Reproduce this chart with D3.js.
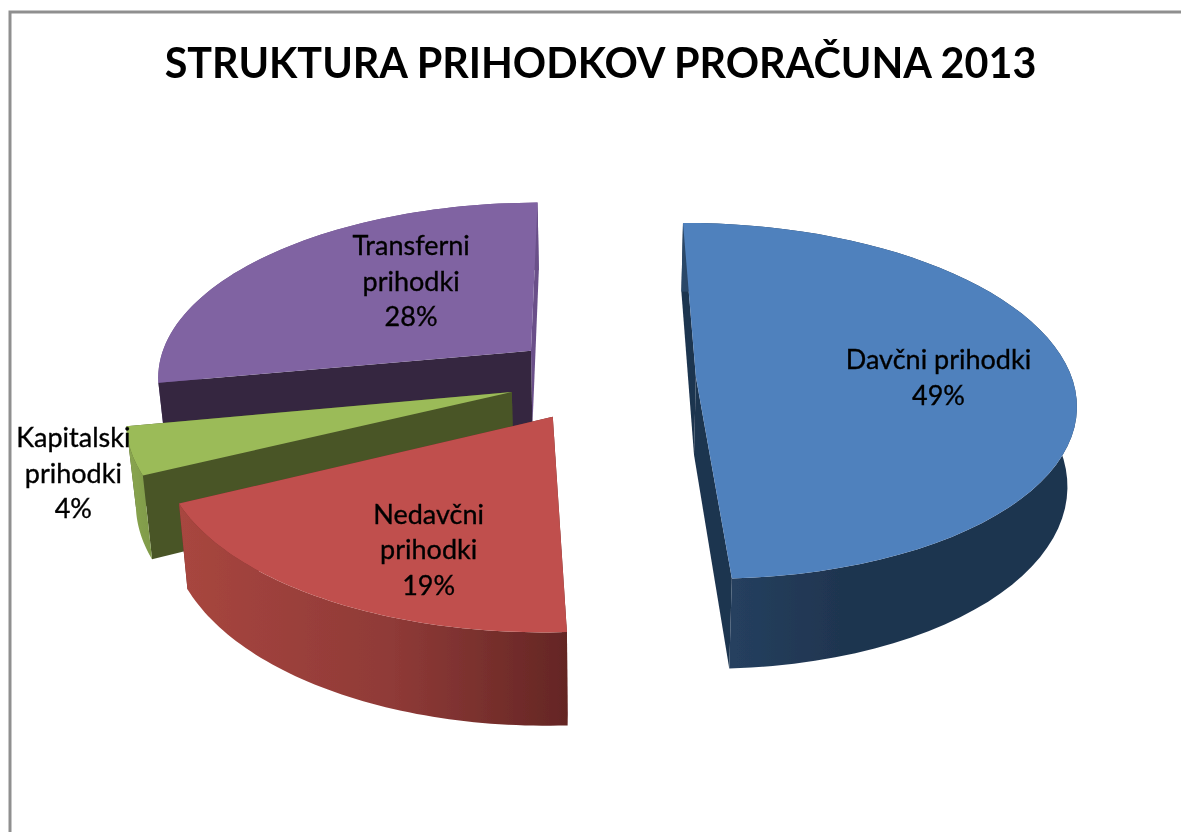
<!DOCTYPE html>
<html><head><meta charset="utf-8">
<script src="https://cdnjs.cloudflare.com/ajax/libs/d3/7.8.5/d3.min.js"></script>
<style>html,body{margin:0;padding:0;background:#fff;overflow:hidden}svg{display:block}</style>
</head><body><div id="chart"></div>
<script>
const titleText = "STRUKTURA PRIHODKOV PRORAČUNA 2013";
const categories = ["Davčni prihodki","Nedavčni prihodki","Kapitalski prihodki","Transferni prihodki"];
const values = [49.3,18.55,4.25,27.9];
const labelLines = [["Davčni prihodki"],["Nedavčni","prihodki"],["Kapitalski","prihodki"],["Transferni","prihodki"]];

// styling and layout (separate from the data)
const topColors = ["#4f81bd","#c0504d","#9bbb59","#8064a2"];
const startWallColors = ["#1f3550","#6b2a28","#4a5528","#362840"];
const endWallColors = ["#1f3550","#6b2a28","#4a5528","#6a5089"];
const sideStops = [
  [["0","#2c4868"],["0.14","#253f5e"],["0.4","#1f3550"],["1","#1f3550"]],
  [["0","#a8463f"],["0.55","#8f3a37"],["1","#642624"]],
  [["0","#8aa650"],["1","#7f9a49"]],
  [["0","#6a5089"],["1","#6a5089"]]
];
const wallsOverSide=[false,false,false,true];
const W=1181,H=832,cx=602,cy=378,Rx=376,Ry=175,persp=0.135,explode=0.25,depth=78,shrink=0.98;
const startDeg=-0.3;
const labelNudge=[[18,4],[7,30],[-214,47],[39,-8]];

const svg=d3.select("#chart").append("svg").attr("width",W).attr("height",H);
const defs=svg.append("defs");
defs.append("filter").attr("id","soft").append("feGaussianBlur").attr("stdDeviation",0.45);
svg.append("rect").attr("width",W).attr("height",H).attr("fill","#fff");
svg.append("path").attr("d",`M10,${H}V12H${W}`).attr("fill","none").attr("stroke","#8f8f8f").attr("stroke-width",3);

const t0=startDeg*Math.PI/180;
const pie=d3.pie().sort(null).startAngle(t0).endAngle(t0+2*Math.PI);
const arcs=pie(values);
const scaleU=d3.scaleLinear().domain([0,1]).range([0,Rx]);
const scaleV=d3.scaleLinear().domain([0,1]).range([0,Ry]);
function proj(u,v,bottom){
  const f=1/(1-persp*v);
  let x=scaleU(u)*f, y=scaleV(v)*f;
  if(bottom){x*=shrink; y+=depth*f;}
  return [cx+x,cy+y];
}
const line=d3.line();
const root=svg.append("g").attr("filter","url(#soft)");
[3,2,1,0].forEach(i=>{
  const a=arcs[i], mid=(a.startAngle+a.endAngle)/2;
  const ou=explode*Math.sin(mid), ov=-explode*Math.cos(mid);
  const ang=d3.range(0,61).map(k=>a.startAngle+(a.endAngle-a.startAngle)*k/60);
  const rim=b=>ang.map(t=>proj(ou+Math.sin(t),ov-Math.cos(t),b));
  const apexT=proj(ou,ov,false),apexB=proj(ou,ov,true);
  const rT=rim(false),rB=rim(true);
  const xs=rT.concat(rB).map(p=>p[0]);
  const g=root.append("g");
  const id="side"+i;
  const grad=defs.append("linearGradient").attr("id",id).attr("gradientUnits","userSpaceOnUse")
    .attr("x1",d3.min(xs)).attr("x2",d3.max(xs)).attr("y1",0).attr("y2",0);
  sideStops[i].forEach(s=>grad.append("stop").attr("offset",s[0]).attr("stop-color",s[1]));
  const wall=(pt,pb,c)=>g.append("path").attr("d",line([apexT,pt,pb,apexB])+"Z").attr("fill",c);
  const side=()=>g.append("path").attr("d",line(rT.concat(rB.slice().reverse()))+"Z").attr("fill",`url(#${id})`);
  if(wallsOverSide[i]) side();
  wall(rT[60],rB[60],endWallColors[i]);
  wall(rT[0],rB[0],startWallColors[i]);
  if(!wallsOverSide[i]) side();
  g.append("path").attr("d",line([apexT].concat(rT))+"Z").attr("fill",topColors[i]);
});

const textLayer=svg.append("g").attr("filter","url(#soft)");
textLayer.append("text").attr("x",600.5).attr("y",78).attr("text-anchor","middle")
  .attr("font-family","Lato, 'Open Sans', sans-serif").attr("font-weight",700).attr("font-size",41.3)
  .attr("fill","#000").text(titleText);

const fmt=d3.format(".0%");
const total=d3.sum(values);
arcs.forEach((a,i)=>{
  const mid=(a.startAngle+a.endAngle)/2;
  const p=proj((explode+0.6)*Math.sin(mid),-(explode+0.6)*Math.cos(mid),false);
  const lines=labelLines[i].concat(fmt(values[i]/total));
  const x=p[0]+labelNudge[i][0], y=p[1]+labelNudge[i][1];
  lines.forEach((s,k)=>{
    textLayer.append("text").attr("x",x).attr("y",y+(k-(lines.length-1)/2)*35.5+9).attr("text-anchor","middle")
      .attr("font-family","Lato, 'Open Sans', sans-serif").attr("font-size",27)
      .attr("stroke","#000").attr("stroke-width",0.35)
      .attr("fill","#000").text(s);
  });
});
</script></body></html>
